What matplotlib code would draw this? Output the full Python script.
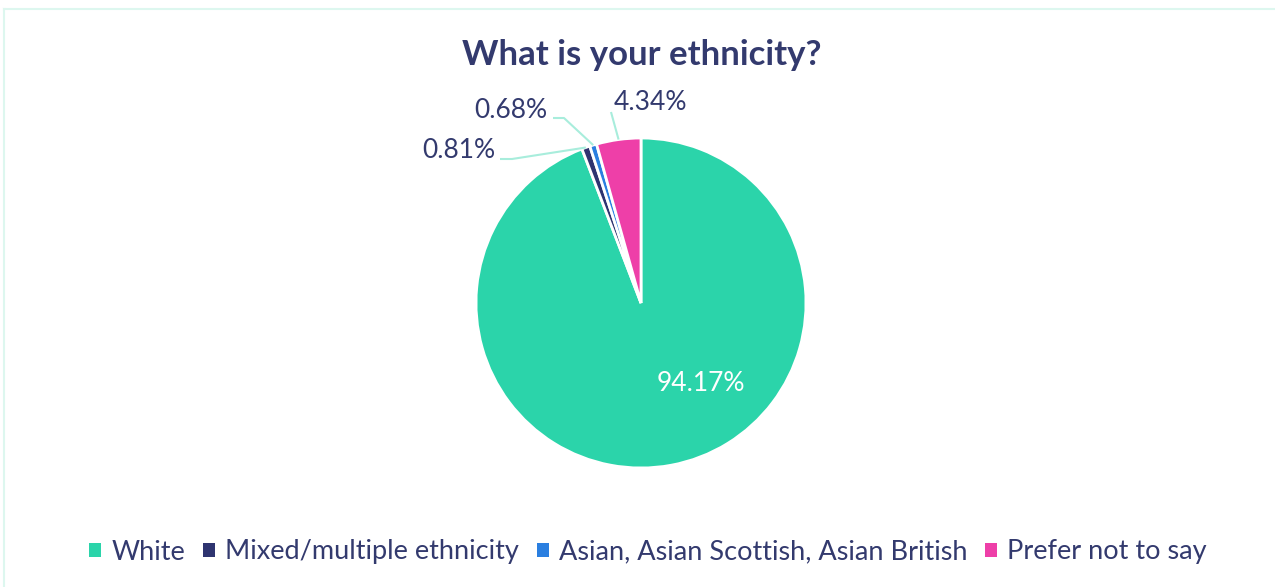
import numpy as np
import matplotlib
matplotlib.use("Agg")
import matplotlib.pyplot as plt
from matplotlib.lines import Line2D

categories = ["White", "Mixed/multiple ethnicity", "Asian, Asian Scottish, Asian British", "Prefer not to say"]
shares = [94.17, 0.81, 0.68, 4.34]
colors = ["#2BD4AA", "#2E3470", "#2A7FE0", "#EE3FA8"]
TXT = "#333A6E"
LEAD = "#A8EDDC"

plt.rcParams["font.family"] = ["Lato", "DejaVu Sans"]

W, H = 1275, 587
fig = plt.figure(figsize=(W / 100, H / 100), dpi=100, facecolor="white")

# light frame (top + left edge, like the exported chart box)
fig.add_artist(Line2D([4 / W, 1], [1 - 9 / H] * 2, color="#DDF7EF", lw=1.5))
fig.add_artist(Line2D([4 / W] * 2, [0, 1 - 9 / H], color="#DDF7EF", lw=1.5))

cx, cy, r = 641, 303, 165
ax = fig.add_axes([(cx - r) / W, (H - cy - r) / H, 2 * r / W, 2 * r / H])
wedges, _ = ax.pie(shares, colors=colors, startangle=90, counterclock=False,
                   wedgeprops=dict(edgecolor="white", linewidth=2))
ax.set_xlim(-1, 1); ax.set_ylim(-1, 1)
ax.set_aspect("equal")
ax.axis("off")

labels = [f"{v:.2f}%" for v in shares]
# white label inside big slice
ax.text(0.36, -0.485, labels[0], color="white", fontsize=19, ha="center", va="center")

# outside labels with leader lines: (text pos, elbow pos) in data units
P = lambda px, py: ((px - cx) / r, (cy - py) / r)
outside = {
    1: (P(459, 150), [P(500, 159), P(512, 159)]),
    2: (P(511, 110), [P(553, 118), P(564, 118)]),
    3: (P(650, 102), [P(611, 112)]),
}
for i, (tpos, path) in outside.items():
    w = wedges[i]
    mid = np.deg2rad((w.theta1 + w.theta2) / 2)
    anchor = (np.cos(mid), np.sin(mid))
    xs = [p[0] for p in path] + [anchor[0]]
    ys = [p[1] for p in path] + [anchor[1]]
    ax.plot(xs, ys, color=LEAD, lw=1.5, clip_on=False, solid_capstyle="butt")
    ax.text(tpos[0], tpos[1], labels[i], color=TXT, fontsize=19, ha="center", va="center", clip_on=False)

fig.text(642 / W, 1 - 55 / H, "What is your ethnicity?", color=TXT, fontsize=25,
         fontweight="bold", ha="center", va="center")

handles = [plt.Rectangle((0, 0), 1, 1, fc=c) for c in colors]
fig.legend(handles, categories, loc="center", bbox_to_anchor=(648 / W, 1 - 552 / H),
           ncol=4, frameon=False, fontsize=19.5, labelcolor=TXT, handlelength=0.45,
           handleheight=0.45, handletextpad=0.37, columnspacing=0.65)

fig.savefig("out.png", dpi=100, facecolor="white")
